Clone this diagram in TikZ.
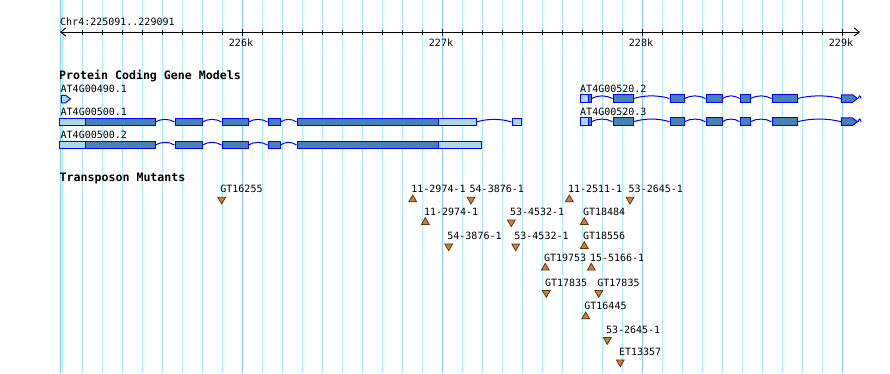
\documentclass[tikz,border=0pt]{standalone}
\usepackage{fontspec}
\setmonofont{DejaVu Sans Mono}
\usepackage{tikz}
\usetikzlibrary{calc}
\usetikzlibrary{arrows.meta}
\usetikzlibrary{shapes.geometric}
\usetikzlibrary{shapes.symbols}

\definecolor{gridminor}{RGB}{170,238,240}
\definecolor{gridmajor}{RGB}{135,204,240}
\definecolor{exondark}{RGB}{70,130,180}
\definecolor{exonlight}{RGB}{173,216,230}
\definecolor{exonline}{RGB}{0,0,255}
\definecolor{tnfill}{RGB}{205,128,60}
\definecolor{tnline}{RGB}{100,50,15}

\tikzset{
  txt/.style={font=\ttfamily\fontsize{10}{12}\selectfont, inner sep=0pt, anchor=base west},
  head/.style={font=\ttfamily\bfseries\fontsize{11.6}{13}\selectfont, inner sep=0pt, anchor=base west},
  cds/.style={draw=exonline, fill=exondark, line width=1pt, inner sep=0pt, minimum height=7.5pt},
  utr/.style={cds, fill=exonlight},
  tip/.style={signal, signal to=east, signal pointer angle=75},
  intron/.style={draw=exonline, line width=1pt,
    to path={.. controls ($(\tikztostart)!0.3!(\tikztotarget)+(0,-3.5)$) and ($(\tikztostart)!0.7!(\tikztotarget)+(0,-3.5)$) .. (\tikztotarget)}},
  tnup/.style={regular polygon, regular polygon sides=3, draw=tnline, fill=tnfill, inner sep=0pt, minimum size=9pt, line width=0.8pt},
  tndown/.style={tnup, shape border rotate=180}
}

\begin{document}
\begin{tikzpicture}[x=1pt, y=-1pt]

\useasboundingbox (0,0) rectangle (890,373);
\fill[white] (0,0) rectangle (890,373);

\foreach \k in {0,...,39}
  \draw[gridminor, line width=1pt] (62+20*\k,0) -- (62+20*\k,373);
\foreach \x in {60,242,442,642,842}
  \draw[gridmajor, line width=1pt] (\x,0) -- (\x,373);

\coordinate (axl) at (60,32);
\coordinate (axr) at (860,32);
\draw[line width=1pt, {Straight Barb[length=5pt,width=8pt]}-{Straight Barb[length=5pt,width=8pt]}] (axl) -- (axr);
\foreach \k in {1,...,39}
  \draw[line width=1pt] (62+20*\k,30) -- (62+20*\k,35);
\foreach \x/\t in {242/226k,442/227k,642/228k,842/229k} {
  \draw[line width=1pt] (\x,29) -- (\x,36);
  \node[txt, anchor=base] (tick\t) at (\x-1,46) {\t};
}
\node[txt] (chr) at (60,25) {Chr4:225091..229091};

\node[head] (hgene) at (59,79.5) {Protein Coding Gene Models};
\node[txt] (g490) at (60.5,92) {AT4G00490.1};
\node[txt] (g500a) at (60.5,115.5) {AT4G00500.1};
\node[txt] (g500b) at (60.5,138.5) {AT4G00500.2};
\node[txt] (g520a) at (580,92.5) {AT4G00520.2};
\node[txt] (g520b) at (580,115.5) {AT4G00520.3};

\node[utr, tip, minimum width=9] (a1) at (63.5,99) {};

\node[utr, minimum width=26] (b1u) at (72,122) {};
\foreach \a/\b [count=\i] in {85/155,175/202,222/248,268/280,297/438}
  \node[cds, minimum width=\b-\a] (b1e\i) at ({(\a+\b)/2},122) {};
\node[utr, minimum width=38] (b1t) at (457,122) {};
\node[utr, minimum width=9] (b1x) at (516.5,122) {};
\foreach \i/\j in {1/2,2/3,3/4,4/5}
  \draw[intron] (b1e\i.east) to (b1e\j.west);
\draw[intron] (b1t.east) to (b1x.west);

\node[utr, minimum width=26] (b2u) at (72,145) {};
\foreach \a/\b [count=\i] in {85/155,175/202,222/248,268/280,297/438}
  \node[cds, minimum width=\b-\a] (b2e\i) at ({(\a+\b)/2},145) {};
\node[utr, minimum width=43] (b2t) at (459.5,145) {};
\foreach \i/\j in {1/2,2/3,3/4,4/5}
  \draw[intron] (b2e\i.east) to (b2e\j.west);

\foreach \r/\y in {1/98.5,2/121.7} {
  \node[utr, minimum width=7.5] (c\r u) at (584.25,\y) {};
  \foreach \a/\b [count=\i] in {588/591,613/633,670/684,706/722,740/750,772/797}
    \node[cds, minimum width=\b-\a] (c\r e\i) at ({(\a+\b)/2},\y) {};
  \node[cds, tip, minimum width=16] (c\r e7) at (847,\y) {};
  \coordinate (c\r end) at (861,\y);
  \foreach \i/\j in {1/2,2/3,3/4,4/5,5/6,6/7}
    \draw[intron] (c\r e\i.east) to (c\r e\j.west);
  \draw[intron] (c\r e7.east) to (c\r end);
}

\node[head] (hmut) at (59.5,181) {Transposon Mutants};

\foreach \x/\y/\d/\t [count=\i] in {
    221.7/189/down/GT16255, 412.7/189/up/11-2974-1, 471/189/down/54-3876-1,
    569.3/189/up/11-2511-1, 630/189/down/53-2645-1, 425.3/211.7/up/11-2974-1,
    511.3/211.7/down/53-4532-1, 584.3/211.7/up/GT18484, 448.7/235.7/down/54-3876-1,
    515.7/235.7/down/53-4532-1, 584.3/235.7/up/GT18556, 545.3/257.3/up/GT19753,
    591.3/257.3/up/15-5166-1, 546.3/282.3/down/GT17835, 598.7/282.3/down/GT17835,
    585.7/306/up/GT16445, 607.3/329.3/down/53-2645-1, 620.3/351.7/down/ET13357} {
  \node[tn\d] (tn\i) at (\x,\y+10.5) {};
  \node[txt] (tnl\i) at (\x-1.5,\y+3.7) {\t};
}

\end{tikzpicture}
\end{document}
